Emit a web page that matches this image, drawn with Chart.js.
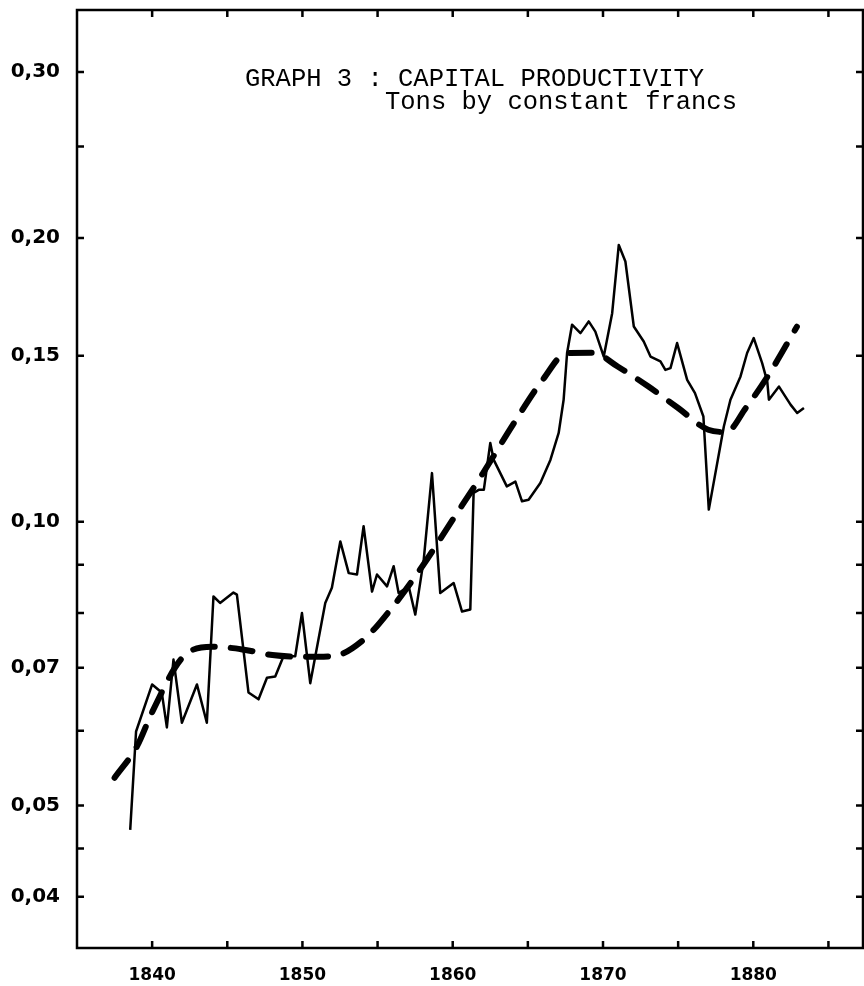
<!DOCTYPE html>
<html><head><meta charset="utf-8">
<script src="https://cdn.jsdelivr.net/npm/chart.js@4/dist/chart.umd.min.js"></script>
<style>html,body{margin:0;padding:0;background:#fff}#wrap{width:864px;height:986px}</style>
</head><body><div id="wrap"><canvas id="c" width="864" height="986"></canvas></div>
<script>
// ---- data ----
const years = [1838.54,1838.93,1840.00,1840.64,1840.98,1841.42,1841.98,1842.98,1843.64,1844.08,1844.52,1845.41,1845.64,1846.41,1847.08,1847.64,1848.19,1848.74,1849.52,1849.97,1850.52,1851.52,1851.96,1852.52,1853.08,1853.63,1854.07,1854.63,1854.96,1855.63,1856.07,1856.40,1857.07,1857.51,1858.07,1858.62,1859.17,1860.06,1860.62,1861.17,1861.39,1861.73,1862.07,1862.50,1862.73,1863.60,1864.17,1864.61,1865.05,1865.83,1866.50,1867.05,1867.38,1867.61,1867.94,1868.50,1869.05,1869.49,1870.05,1870.61,1871.05,1871.49,1872.05,1872.71,1873.16,1873.82,1874.15,1874.49,1874.93,1875.60,1876.12,1876.68,1877.04,1878.04,1878.48,1879.15,1879.59,1880.03,1880.59,1880.93,1881.04,1881.71,1882.48,1882.92,1883.37];
const productivity = [0.0471,0.0599,0.0672,0.0659,0.0605,0.0714,0.0612,0.0672,0.0612,0.0833,0.0820,0.0841,0.0837,0.0659,0.0648,0.0683,0.0685,0.0720,0.0720,0.0800,0.0674,0.0820,0.0851,0.0953,0.0882,0.0879,0.0989,0.0843,0.0879,0.0854,0.0897,0.0840,0.0854,0.0797,0.0911,0.1126,0.0840,0.0861,0.0803,0.0807,0.1073,0.1081,0.1081,0.1212,0.1163,0.1090,0.1103,0.1051,0.1055,0.1099,0.1163,0.1242,0.1347,0.1510,0.1618,0.1585,0.1631,0.1591,0.1497,0.1664,0.1966,0.1888,0.1611,0.1553,0.1497,0.1479,0.1449,0.1455,0.1547,0.1414,0.1369,0.1293,0.1030,0.1262,0.1347,0.1426,0.1510,0.1566,0.1473,0.1408,0.1347,0.1391,0.1331,0.1304,0.1320];
const trendYears = [1837.5,1839.0,1840.0,1842.0,1844.0,1846.0,1848.0,1850.0,1852.0,1854.0,1856.0,1858.0,1860.0,1862.0,1864.0,1866.0,1867.6,1869.3,1871.0,1873.0,1875.0,1877.0,1878.2,1879.5,1881.0,1882.9];
const trendValues = [0.0535,0.0578,0.0628,0.0717,0.0737,0.0732,0.0722,0.0719,0.0720,0.0748,0.0812,0.0898,0.1005,0.1125,0.1267,0.1415,0.1510,0.1511,0.1460,0.1392,0.1320,0.1252,0.1245,0.1320,0.1430,0.1610];
const yTickValues = [0.04,0.045,0.05,0.06,0.07,0.08,0.09,0.10,0.15,0.20,0.25,0.30];
const yTickLabels = {'0.040':'0,04','0.050':'0,05','0.070':'0,07','0.100':'0,10','0.150':'0,15','0.200':'0,20','0.300':'0,30'};
const xTickValues = [1840,1845,1850,1855,1860,1865,1870,1875,1880,1885];
const xTickLabels = {1840:'1840',1850:'1850',1860:'1860',1870:'1870',1880:'1880'};
const titleLines = ['GRAPH 3 : CAPITAL PRODUCTIVITY','Tons by constant francs'];

const framePlugin = {
  id:'frame',
  afterDraw(chart){
    const ctx = chart.ctx, a = chart.chartArea;
    const xs = chart.scales.x, ys = chart.scales.y;
    ctx.save();
    ctx.strokeStyle = '#000';
    ctx.lineWidth = 2.5;
    ctx.strokeRect(a.left, a.top, a.right - a.left, a.bottom - a.top);
    const tl = 7;
    ctx.beginPath();
    yTickValues.forEach(v => {
      const p = ys.getPixelForValue(v);
      ctx.moveTo(a.left, p); ctx.lineTo(a.left + tl, p);
      ctx.moveTo(a.right, p); ctx.lineTo(a.right - tl, p);
    });
    xTickValues.forEach(v => {
      const p = xs.getPixelForValue(v);
      ctx.moveTo(p, a.top); ctx.lineTo(p, a.top + tl);
      ctx.moveTo(p, a.bottom); ctx.lineTo(p, a.bottom - tl);
    });
    ctx.stroke();
    ctx.fillStyle = '#000';
    ctx.font = '25.5px "Liberation Mono", "DejaVu Sans Mono", monospace';
    ctx.textBaseline = 'alphabetic';
    ctx.textAlign = 'left';
    ctx.fillText(titleLines[0], 245, 86);
    ctx.fillText(titleLines[1], 385, 109);
    ctx.restore();
  }
};

new Chart(document.getElementById('c'), {
  type: 'line',
  data: {
    datasets: [
      {
        label: 'Capital productivity',
        data: years.map((x, i) => ({x, y: productivity[i]})),
        borderColor: '#000', borderWidth: 2.5, pointRadius: 0, tension: 0,
        borderJoinStyle: 'round', fill: false
      },
      {
        label: 'Trend',
        data: trendYears.map((x, i) => ({x, y: trendValues[i]})),
        borderColor: '#000', borderWidth: 6, borderDash: [22, 16], borderCapStyle: 'round',
        pointRadius: 0, cubicInterpolationMode: 'monotone', fill: false
      }
    ]
  },
  options: {
    responsive: false,
    animation: false,
    devicePixelRatio: 1,
    layout: { padding: { top: 10, right: 1, left: 0, bottom: 0 } },
    plugins: { legend: { display: false }, tooltip: { enabled: false }, title: { display: false } },
    scales: {
      x: {
        type: 'linear', position: 'bottom', min: 1835, max: 1887.3,
        grid: { display: false }, border: { display: false },
        afterBuildTicks: s => { s.ticks = xTickValues.map(v => ({value: v})); },
        afterFit: s => { s.height = 38; s.paddingLeft = 0; s.paddingRight = 0; },
        ticks: {
          autoSkip: false, maxRotation: 0, color: '#000', padding: 9,
          font: { family: '"DejaVu Sans", sans-serif', size: 17, weight: 'bold' },
          callback: v => xTickLabels[v] || ''
        }
      },
      y: {
        type: 'logarithmic', position: 'left', min: 0.0353, max: 0.349,
        grid: { display: false }, border: { display: false },
        afterBuildTicks: s => { s.ticks = yTickValues.map(v => ({value: v})); },
        afterFit: s => { s.width = 77; s.paddingTop = 0; s.paddingBottom = 0; },
        ticks: {
          autoSkip: false, color: '#000', padding: 9,
          font: { family: '"DejaVu Sans", sans-serif', size: 20, weight: 'bold' },
          callback: v => yTickLabels[Number(v).toFixed(3)] || ''
        }
      }
    }
  },
  plugins: [framePlugin]
});
</script>
</body></html>
